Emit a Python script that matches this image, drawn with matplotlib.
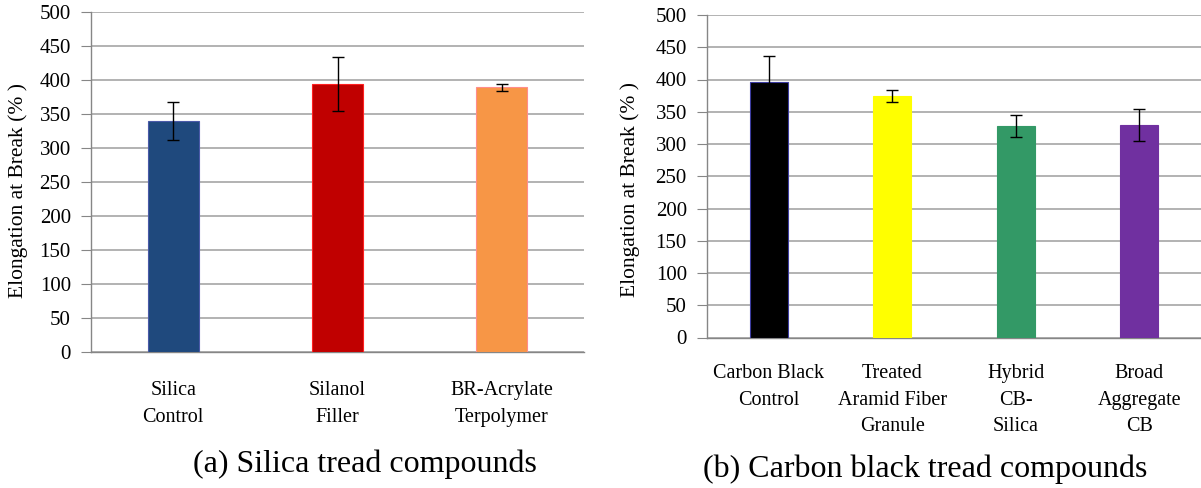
import matplotlib.pyplot as plt
import numpy as np

plt.rcParams['font.family'] = ['Liberation Serif', 'DejaVu Serif']

# (a) silica tread compounds
silica_names = ['Silica\nControl', 'Silanol\nFiller', 'BR-Acrylate\nTerpolymer']
silica_vals = [340, 394, 389]
silica_err = [28, 40, 4.5]
silica_colors = ['#1F497D', '#C00000', '#F79646']
silica_edges = ['#4A5AA8', '#FF2020', '#FF8C8C']

# (b) carbon black tread compounds
cb_names = ['Carbon Black\nControl', 'Treated\nAramid Fiber\nGranule', 'Hybrid\nCB-\nSilica', 'Broad\nAggregate\nCB']
cb_vals = [396, 374, 328, 330]
cb_err = [41, 9, 17, 25]
cb_colors = ['#000000', '#FFFF00', '#339966', '#7030A0']
cb_edges = ['#3C3CA0', '#FFFF00', '#339966', '#7030A0']

yticks = np.arange(0, 501, 50)

W, H = 1201, 488
fig = plt.figure(figsize=(W / 100, H / 100), dpi=100)


def px_axes(x0, x1, ytop, ybot):
    return fig.add_axes([x0 / W, 1 - ybot / H, (x1 - x0) / W, (ybot - ytop) / H])


def draw(ax, names, vals, errs, colors, edges, pad):
    x = np.arange(len(vals))
    ax.bar(x, vals, width=0.31, color=colors, edgecolor=edges, linewidth=0.8, zorder=3)
    ax.errorbar(x, vals, yerr=errs, fmt='none', ecolor='black', elinewidth=1,
                capsize=4, capthick=1, zorder=4)
    ax.set_xlim(-0.5, len(vals) - 0.5)
    ax.set_ylim(0, 500)
    ax.set_yticks(yticks)
    ax.set_xticks(x)
    ax.set_xticklabels(names, fontsize=14.5, linespacing=1.55)
    ax.tick_params(axis='x', length=0, pad=pad)
    ax.tick_params(axis='y', length=7, color='#868686', labelsize=15, pad=7.5)
    ax.yaxis.grid(True, color='#A6A6A6', linewidth=1.2, zorder=0)
    ax.set_axisbelow(True)
    for s in ['top', 'right']:
        ax.spines[s].set_visible(False)
    for s in ['left', 'bottom']:
        ax.spines[s].set_color('#868686')
        ax.spines[s].set_linewidth(1.0)


ax1 = px_axes(91, 584, 12, 352)
draw(ax1, silica_names, silica_vals, silica_err, silica_colors, silica_edges, 21)

ax2 = px_axes(707, 1201, 15, 337.5)
draw(ax2, cb_names, cb_vals, cb_err, cb_colors, cb_edges, 19)

fig.text(18 / W, 1 - 190 / H, 'Elongation at Break (% )', fontsize=15.5,
         rotation=90, ha='center', va='center')
fig.text(630 / W, 1 - 189 / H, 'Elongation at Break (% )', fontsize=15.5,
         rotation=90, ha='center', va='center')

fig.text(365 / W, 1 - 464 / H, '(a) Silica tread compounds', fontsize=23,
         ha='center', va='center')
fig.text(925 / W, 1 - 469 / H, '(b) Carbon black tread compounds', fontsize=23,
         ha='center', va='center')

fig.savefig('out.png', dpi=100)
